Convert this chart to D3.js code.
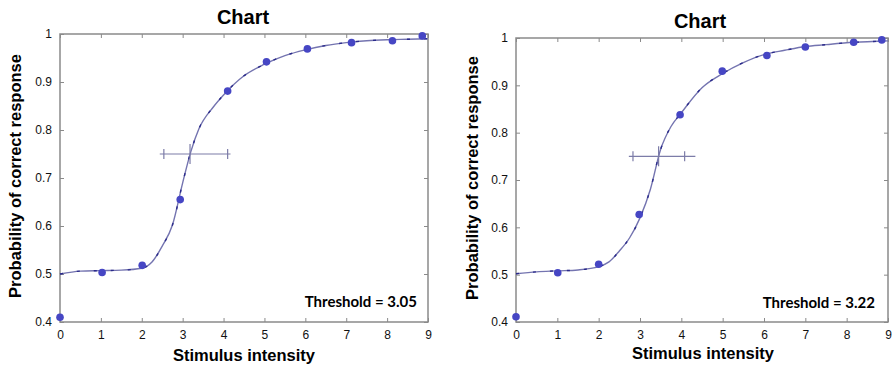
<!DOCTYPE html>
<html>
<head>
<meta charset="utf-8">
<script src="https://cdn.jsdelivr.net/npm/d3@7"></script>
<style>
  body { margin: 0; background: #fff; }
  svg { display: block; }
  .tick-label { font-family: "Liberation Sans", Arial, sans-serif; font-size: 12px; fill: #111; }
  .title { font-family: "Liberation Sans", Arial, sans-serif; font-weight: bold; font-size: 20px; }
  .axis-label { font-family: "Liberation Sans", Arial, sans-serif; font-weight: bold; font-size: 16.5px; }
  .thresh { font-family: Lato, "Open Sans", sans-serif; font-weight: bold; font-size: 15px; }
</style>
</head>
<body>
<svg id="chart" width="893" height="367"></svg>
<script>
// tick values
const xTicks = [0, 1, 2, 3, 4, 5, 6, 7, 8, 9];
const yTicks = [0.4, 0.5, 0.6, 0.7, 0.8, 0.9, 1];

// left panel - measured points
const leftPtsX = [0, 1.03, 2.01, 2.94, 4.10, 5.05, 6.05, 7.13, 8.13, 8.86];
const leftPtsY = [0.41, 0.503, 0.518, 0.655, 0.881, 0.942, 0.969, 0.982, 0.986, 0.996];
// left panel - fitted curve
const leftCurveX = [0, 0.5, 1, 1.5, 2, 2.25, 2.5, 2.75, 3, 3.2, 3.4, 3.75, 4, 4.5, 5, 5.5, 6, 6.5, 7, 7.5, 8, 8.5, 9];
const leftCurveY = [0.5, 0.506, 0.507, 0.508, 0.512, 0.525, 0.558, 0.602, 0.69, 0.755, 0.803, 0.848, 0.873, 0.913, 0.937, 0.955, 0.967, 0.976, 0.982, 0.986, 0.988, 0.989, 0.99];
const leftThreshold = { label: "Threshold = 3.05", lo: 2.54, mid: 3.18, hi: 4.10, ext: [2.44, 4.17], p: 0.75 };

// right panel - measured points
const rightPtsX = [0, 1.01, 2.0, 2.98, 3.97, 4.99, 6.07, 7.0, 8.17, 8.85];
const rightPtsY = [0.411, 0.504, 0.522, 0.627, 0.838, 0.930, 0.963, 0.981, 0.991, 0.996];
// right panel - fitted curve
const rightCurveX = [0, 0.5, 1, 1.5, 2, 2.25, 2.5, 2.75, 3, 3.25, 3.5, 3.75, 4, 4.5, 5, 5.5, 6, 6.5, 7, 7.5, 8, 8.5, 9];
const rightCurveY = [0.502, 0.506, 0.508, 0.51, 0.517, 0.527, 0.55, 0.578, 0.62, 0.68, 0.765, 0.813, 0.842, 0.895, 0.925, 0.948, 0.965, 0.974, 0.982, 0.986, 0.99, 0.992, 0.994];
const rightThreshold = { label: "Threshold = 3.22", lo: 2.83, mid: 3.45, hi: 4.08, ext: [2.73, 4.34], p: 0.75 };

const svg = d3.select("#chart");

const panels = [
  { box: { left: 60, right: 428, top: 34, bottom: 322 }, ptsX: leftPtsX, ptsY: leftPtsY,
    curveX: leftCurveX, curveY: leftCurveY, th: leftThreshold,
    titleX: 243, titleY: 24, xlabX: 244, xlabY: 361, ylabX: 21, ylabY: 176, thX: 417, thY: 307 },
  { box: { left: 516, right: 888, top: 38, bottom: 322 }, ptsX: rightPtsX, ptsY: rightPtsY,
    curveX: rightCurveX, curveY: rightCurveY, th: rightThreshold,
    titleX: 700, titleY: 28, xlabX: 703, xlabY: 359, ylabX: 478, ylabY: 178, thX: 875, thY: 308 }
];

const frameColor = "#8a8a8a";
const dotColor = "#4646c4";
const curveColor = "#7474b0";
const crossColor = "#7c7ca8";

panels.forEach(p => {
  const b = p.box;
  const x = d3.scaleLinear().domain([0, 9]).range([b.left, b.right]);
  const y = d3.scaleLinear().domain([0.4, 1]).range([b.bottom, b.top]);
  const g = svg.append("g");

  // frame
  g.append("rect")
    .attr("x", b.left).attr("y", b.top)
    .attr("width", b.right - b.left).attr("height", b.bottom - b.top)
    .attr("fill", "none").attr("stroke", frameColor).attr("stroke-width", 1.5);

  // axes with inward ticks on all four sides
  const tl = 4;
  const xAx = d3.axisBottom(x).tickValues(xTicks).tickSize(-tl).tickPadding(8).tickFormat(d3.format("d"));
  const yAx = d3.axisLeft(y).tickValues(yTicks).tickSize(-tl).tickPadding(8).tickFormat(d => d === 1 ? "1" : d3.format(".1f")(d));
  const xTop = d3.axisTop(x).tickValues(xTicks).tickSize(-tl).tickFormat("");
  const yRight = d3.axisRight(y).tickValues(yTicks).tickSize(-tl).tickFormat("");

  [[xAx, `translate(0,${b.bottom})`], [yAx, `translate(${b.left},0)`],
   [xTop, `translate(0,${b.top})`], [yRight, `translate(${b.right},0)`]].forEach(([ax, tr]) => {
    const a = g.append("g").attr("transform", tr).call(ax);
    a.select(".domain").remove();
    a.selectAll(".tick line").attr("stroke", frameColor);
    a.selectAll(".tick text").attr("class", "tick-label").attr("fill", "#111");
  });

  // fitted curve
  const pts = p.curveX.map((d, i) => [d, p.curveY[i]]);
  const line = d3.line().curve(d3.curveMonotoneX).x(d => x(d[0])).y(d => y(d[1]));
  g.append("path").datum(pts).attr("d", line)
    .attr("fill", "none").attr("stroke", curveColor).attr("stroke-width", 1.4);
  g.append("path").datum(pts).attr("d", line)
    .attr("fill", "none").attr("stroke", "#2a2a8a").attr("stroke-width", 1.4)
    .attr("stroke-dasharray", "3,14");

  // threshold crosshair
  const th = p.th;
  g.append("line")
    .attr("x1", x(th.ext[0])).attr("x2", x(th.ext[1]))
    .attr("y1", y(th.p)).attr("y2", y(th.p))
    .attr("stroke", crossColor).attr("stroke-width", 1.2);
  [[th.lo, 5], [th.mid, 10], [th.hi, 5]].forEach(([v, h]) => {
    g.append("line")
      .attr("x1", x(v)).attr("x2", x(v))
      .attr("y1", y(th.p) - h).attr("y2", y(th.p) + h)
      .attr("stroke", crossColor).attr("stroke-width", 1.2);
  });

  // data points
  g.selectAll("circle.pt").data(p.ptsX.map((d, i) => [d, p.ptsY[i]])).enter()
    .append("circle").attr("class", "pt")
    .attr("cx", d => x(d[0])).attr("cy", d => y(d[1])).attr("r", 3.8)
    .attr("fill", dotColor);

  // texts
  g.append("text").attr("class", "title").attr("x", p.titleX).attr("y", p.titleY)
    .attr("text-anchor", "middle").text("Chart");
  g.append("text").attr("class", "axis-label").attr("x", p.xlabX).attr("y", p.xlabY)
    .attr("text-anchor", "middle").text("Stimulus intensity");
  g.append("text").attr("class", "axis-label")
    .attr("transform", `translate(${p.ylabX},${p.ylabY}) rotate(-90)`)
    .attr("text-anchor", "middle").text("Probability of correct response");
  g.append("text").attr("class", "thresh").attr("x", p.thX).attr("y", p.thY)
    .attr("text-anchor", "end").text(th.label);
});
</script>
</body>
</html>
